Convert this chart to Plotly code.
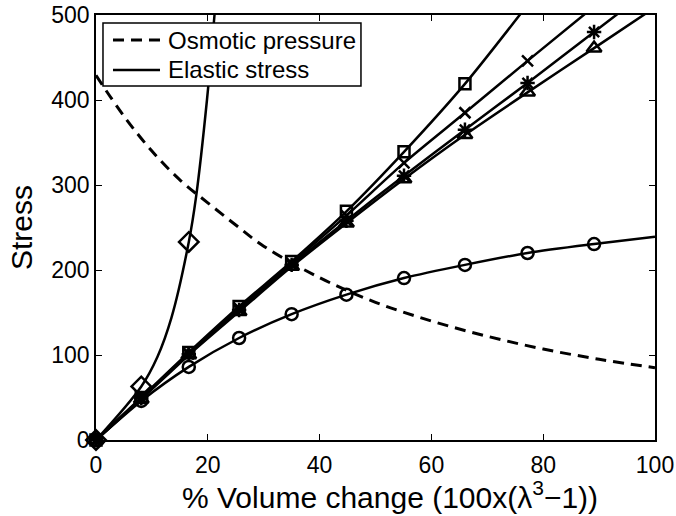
import plotly.graph_objects as go

# ---- data ----
vol_change = [0, 8.1, 16.6, 25.6, 35.0, 44.8, 55.1, 66.0, 77.2, 89.1]

stress_circle = [0, 46, 86, 120, 148, 171, 190.5, 206, 220, 230.5]
stress_square = [0, 50, 103, 157, 210, 269, 339, 419, 512, None]
stress_cross = [0, 49, 102, 155, 208, 264, 326, 385, 446, 510]
stress_asterisk = [0, 49, 101, 153, 206, 258, 311, 365, 420, 480]
stress_triangle = [0, 48, 100, 151, 204, 255, 307, 359, 409, 461]

# curve ends beyond the last marker
circle_end_x, circle_end_y = [100], [239]
asterisk_end_x, asterisk_end_y = [100], [535]
triangle_end_x, triangle_end_y = [100], [509]

# diamond series: markers and the steep curve
diamond_x = [0, 8.1, 16.6]
diamond_y = [0, 63, 233]
diamond_curve_x = [0, 8.1, 11.0, 13.5, 16.6, 17.9, 19.85, 21.2, 22.0]
diamond_curve_y = [0, 63, 98, 144, 233, 286, 400, 500, 560]

# osmotic pressure (dashed)
osm_x = [0, 5, 10, 15, 20, 25, 30, 40, 50, 60, 70, 80, 90, 100]
osm_y = [429, 381, 340, 306, 279, 253, 228, 191, 162, 140, 122, 107, 95, 85]

x_ticks = [0, 20, 40, 60, 80, 100]
y_ticks = [0, 100, 200, 300, 400, 500]

legend_labels = ["Osmotic pressure", "Elastic stress"]
legend_dashes = ["11px,7px", "solid"]

FONT = "Liberation Sans, Arial, sans-serif"
BLACK = "black"
LW = 2.5

fig = go.Figure()

fig.add_trace(go.Scatter(
    x=osm_x, y=osm_y, mode="lines", name=legend_labels[0], showlegend=False,
    line=dict(color=BLACK, width=3, dash=legend_dashes[0], shape="spline"),
))


def series(xs, ys, ex, ey, symbol, size):
    lx = [x for x, y in zip(xs, ys) if y is not None] + ex
    ly = [y for y in ys if y is not None] + ey
    fig.add_trace(go.Scatter(
        x=lx, y=ly, mode="lines", name=legend_labels[1], showlegend=False,
        line=dict(color=BLACK, width=LW, shape="spline", smoothing=0.8),
        hoverinfo="skip",
    ))
    mx = [x for x, y in zip(xs, ys) if y is not None and y <= 500]
    my = [y for y in ys if y is not None and y <= 500]
    fig.add_trace(go.Scatter(
        x=mx, y=my, mode="markers", name=legend_labels[1], showlegend=False,
        cliponaxis=False,
        marker=dict(symbol=symbol, size=size, color=BLACK,
                    line=dict(color=BLACK, width=2.5)),
    ))


series(vol_change, stress_circle, circle_end_x, circle_end_y, "circle-open", 12)
series(vol_change, stress_square, [], [], "square-open", 11)
series(vol_change, stress_cross, [], [], "x-thin-open", 11)
series(vol_change, stress_asterisk, asterisk_end_x, asterisk_end_y,
       "asterisk-open", 12)
series(vol_change, stress_triangle, triangle_end_x, triangle_end_y,
       "triangle-up-open", 13)

fig.add_trace(go.Scatter(
    x=diamond_curve_x, y=diamond_curve_y, mode="lines", name=legend_labels[1],
    showlegend=False,
    line=dict(color=BLACK, width=LW, shape="spline", smoothing=1.0),
))
fig.add_trace(go.Scatter(
    x=diamond_x, y=diamond_y, mode="markers", name=legend_labels[1],
    showlegend=False, cliponaxis=False,
    marker=dict(symbol="diamond-open", size=15, color=BLACK,
                line=dict(color=BLACK, width=2.5)),
))

axis_common = dict(
    showline=True, linecolor=BLACK, linewidth=1.5, mirror="allticks",
    ticks="inside", ticklen=6, tickcolor=BLACK, tickwidth=1,
    showgrid=False, zeroline=False, automargin=False,
    tickfont=dict(family=FONT, size=23, color=BLACK),
)

# ---- legend box (drawn in paper coordinates) ----
box = dict(x0=0.0125, x1=0.474, y0=0.833, y1=0.981)
row_y = [0.941, 0.8706]
sample_x = [0.0304, 0.1145]
text_x = 0.1252

shapes = [dict(type="rect", xref="paper", yref="paper", layer="above",
               fillcolor="white", line=dict(color=BLACK, width=1.5), **box)]
annotations = []
for label, dash, ry, w in zip(legend_labels, legend_dashes, row_y, [3, LW]):
    shapes.append(dict(type="line", xref="paper", yref="paper", layer="above",
                       x0=sample_x[0], x1=sample_x[1], y0=ry, y1=ry,
                       line=dict(color=BLACK, width=w, dash=dash)))
    annotations.append(dict(text=label, xref="paper", yref="paper",
                            x=text_x, y=ry, xanchor="left", yanchor="middle",
                            showarrow=False,
                            font=dict(family=FONT, size=24, color=BLACK)))

annotations.append(dict(
    text="% Volume change (100x(λ<sup>3</sup>−1))",
    xref="paper", yref="paper", x=0.526, y=-0.08,
    xanchor="center", yanchor="top", showarrow=False,
    font=dict(family=FONT, size=30, color=BLACK),
))

fig.update_layout(
    width=676, height=516,
    margin=dict(l=96, r=21, t=15, b=76),
    paper_bgcolor="white", plot_bgcolor="white",
    font=dict(family=FONT, color=BLACK),
    xaxis=dict(range=[0, 100], tickvals=x_ticks, ticklabelstandoff=4,
               **axis_common),
    yaxis=dict(range=[0, 500], tickvals=y_ticks,
               title=dict(text="Stress",
                          font=dict(family=FONT, size=30, color=BLACK),
                          standoff=10),
               **axis_common),
    showlegend=False,
    shapes=shapes,
    annotations=annotations,
)

fig.write_html(
    "out.html",
    config={"displayModeBar": False},
    post_script="document.body.style.margin='0';"
                "document.body.style.overflow='hidden';",
)
